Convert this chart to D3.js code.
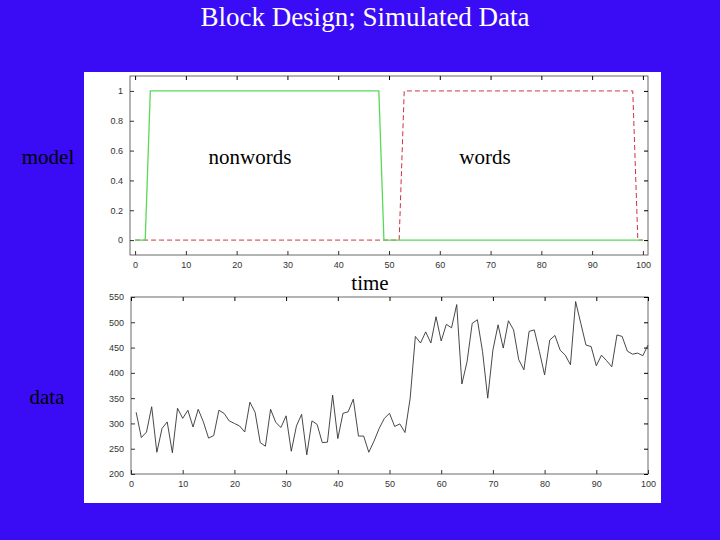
<!DOCTYPE html>
<html><head><meta charset="utf-8">
<script src="https://cdn.jsdelivr.net/npm/d3@7"></script>
<style>body{margin:0;background:#3a0cf5}</style></head>
<body><svg id="c" width="720" height="540"></svg>
<script>
const time = d3.range(0, 101);
const nonwords = time.map(t => (t >= 3 && t <= 48) ? 1 : 0);
const words = time.map(t => (t >= 53 && t <= 98) ? 1 : 0);
const dataT = d3.range(1, 101);
const dataV = [322,272,283,333,243,290,303,242,330,310,326,293,328,303,271,276,326,320,305,300,
  295,283,342,322,262,255,328,302,292,315,245,295,318,238,305,298,262,263,356,270,
  320,323,348,275,275,243,265,290,310,320,294,299,282,350,472,459,481,459,511,463,
  496,489,535,378,422,498,505,442,350,445,495,449,503,485,426,406,482,485,442,396,
  465,474,445,435,416,541,498,455,452,414,435,424,412,475,472,443,437,439,434,455];
const topTicks = [0, 0.2, 0.4, 0.6, 0.8, 1];
const botTicks = [200, 250, 300, 350, 400, 450, 500, 550];
const xTicks = d3.range(0, 101, 10);

const svg = d3.select("#c");
svg.append("rect").attr("x", 84).attr("y", 72).attr("width", 577).attr("height", 431).attr("fill", "#fff");
svg.append("text").attr("x", 365).attr("y", 26).attr("text-anchor", "middle")
  .attr("font-family", "Liberation Serif").attr("font-size", 27).attr("fill", "#fff")
  .text("Block Design; Simulated Data");

function axes(g, x, y, yt, w, h) {
  g.append("rect").attr("x", x.range()[0]).attr("y", y.range()[1]).attr("width", w).attr("height", h)
    .attr("fill", "none").attr("stroke", "#444").attr("stroke-width", 0.8);
  const f = g => g.attr("font-family", "Liberation Sans").attr("font-size", 9).attr("color", "#333");
  g.append("g").attr("transform", `translate(0,${y.range()[0]})`).call(d3.axisBottom(x).tickValues(xTicks).tickSize(-4).tickPadding(7)).call(f).select(".domain").remove();
  g.append("g").attr("transform", `translate(0,${y.range()[1]})`).call(d3.axisTop(x).tickValues(xTicks).tickSize(-4).tickFormat("")).select(".domain").remove();
  g.append("g").attr("transform", `translate(${x.range()[0]},0)`).call(d3.axisLeft(y).tickValues(yt).tickSize(-4).tickPadding(7).tickFormat(d3.format("~g"))).call(f).select(".domain").remove();
  g.append("g").attr("transform", `translate(${x.range()[1]},0)`).call(d3.axisRight(y).tickValues(yt).tickSize(-4).tickFormat("")).select(".domain").remove();
}

// top
const x1 = d3.scaleLinear().domain([-1, 101]).range([130, 648]);
const y1 = d3.scaleLinear().domain([-0.1, 1.1]).range([255, 76]);
const g1 = svg.append("g");
axes(g1, x1, y1, topTicks, 518, 179);
g1.append("path").datum(words).attr("fill", "none").attr("stroke", "#d03040").attr("stroke-width", 1).attr("stroke-dasharray", "5,3")
  .attr("d", d3.line().x((d, i) => x1(time[i])).y(d => y1(d)));
g1.append("path").datum(nonwords).attr("fill", "none").attr("stroke", "#5ad85a").attr("stroke-width", 1.3)
  .attr("d", d3.line().x((d, i) => x1(time[i])).y(d => y1(d)));

// bottom
const x2 = d3.scaleLinear().domain([0, 100]).range([131, 648]);
const y2 = d3.scaleLinear().domain([200, 550]).range([474, 297]);
const g2 = svg.append("g");
axes(g2, x2, y2, botTicks, 517, 177);
g2.append("path").datum(dataV).attr("fill", "none").attr("stroke", "#333").attr("stroke-width", 0.9)
  .attr("d", d3.line().x((d, i) => x2(dataT[i])).y(d => y2(d)));

const lab = [["model", 48, 164], ["data", 47, 404], ["time", 370, 290], ["nonwords", 250, 164], ["words", 485, 164]];
svg.selectAll(".lab").data(lab).join("text").attr("x", d => d[1]).attr("y", d => d[2]).attr("text-anchor", "middle")
  .attr("font-family", "Liberation Serif").attr("font-size", 21).attr("fill", "#000").text(d => d[0]);
</script></body></html>
